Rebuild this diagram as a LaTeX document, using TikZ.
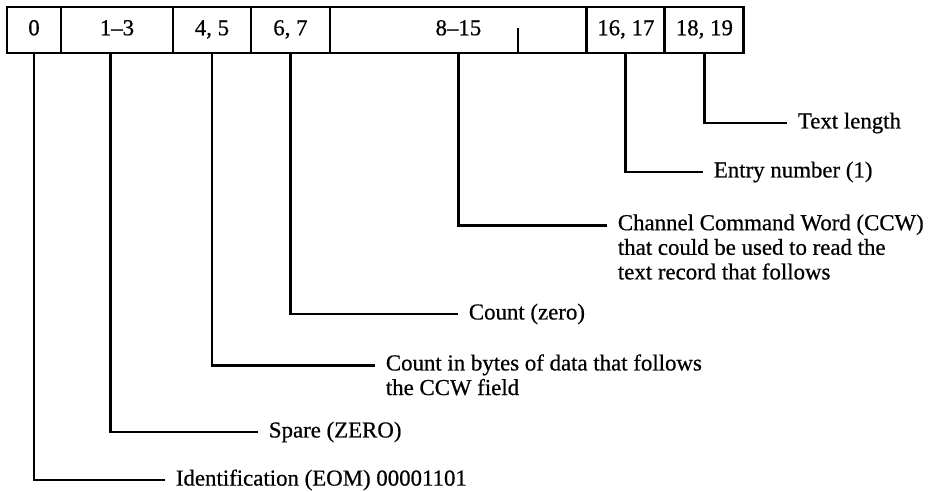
\documentclass[tikz,border=0pt]{standalone}
\usepackage{fontspec}
\setmainfont{Liberation Serif}
\newfontfamily\notefont[Ligatures=TeX, FakeBold=0.6]{Liberation Serif}
\usetikzlibrary{positioning}
\tikzset{
  field/.style={draw, line width=1.6pt, anchor=west, outer sep=0pt, inner sep=0pt,
    minimum height=0.92cm, text height=9pt, text depth=3pt,
    font=\notefont\fontsize{13}{14}\selectfont},
  lead/.style={line width=1.6pt},
  note/.style={anchor=west, inner xsep=6pt, inner ysep=0pt, align=left,
    font=\notefont\fontsize{13}{14}\selectfont}
}
\begin{document}
\begin{tikzpicture}[x=0.02cm, y=-0.02cm]
			%%%%% START %%%%%
			\useasboundingbox (0,0) rectangle (928,492);
			
			% the record fields
			\node[field, minimum width=1.08cm] (f0) at (7,30) {0};
			\node[field, minimum width=2.24cm, right=0pt of f0] (f13) {1--3};
			\node[field, minimum width=1.56cm, right=0pt of f13] (f45) {4, 5};
			\node[field, minimum width=1.58cm, right=0pt of f45] (f67) {6, 7};
			\node[field, minimum width=5.14cm, right=0pt of f67] (f815) {8--15};
			\node[field, minimum width=1.56cm, right=0pt of f815] (f1617) {16, 17};
			\node[field, minimum width=1.58cm, right=0pt of f1617] (f1819) {18, 19};
			\draw[lead] (f815.south west) ++(188,0) -- ++(0,-25);
			
			% the notes
			\node[note] (ltext) at (787,123) {Text length};
			\node[note] (lentry) at (703,172) {Entry number (1)};
			\node[note, anchor=north west] (lccw) at (607,214) {Channel Command Word (CCW)\\that could be used to read the\\text record that follows};
			\node[note] (lzero) at (458,314) {Count (zero)};
			\node[note, anchor=north west] (lbytes) at (375,354) {Count in bytes of data that follows\\the CCW field};
			\node[note] (lspare) at (258,432) {Spare (ZERO)};
			\node[note] (lid) at (165,480) {Identification (EOM) 00001101};
			
			% leaders
			\draw[lead] (f1819.south) |- (ltext.west);
			\draw[lead] (f1617.south) |- (lentry.west);
			\draw[lead] (f815.south) |- ([yshift=-6.5pt]lccw.north west);
			\draw[lead] (f67.south) |- (lzero.west);
			\draw[lead] (f45.south) |- ([yshift=-6.5pt]lbytes.north west);
			\draw[lead] ([xshift=-3.5pt]f13.south) |- (lspare.west);
			\draw[lead] (f0.south) |- (lid.west);
			
			%%%%% END %%%%%
\end{tikzpicture}
\end{document}
